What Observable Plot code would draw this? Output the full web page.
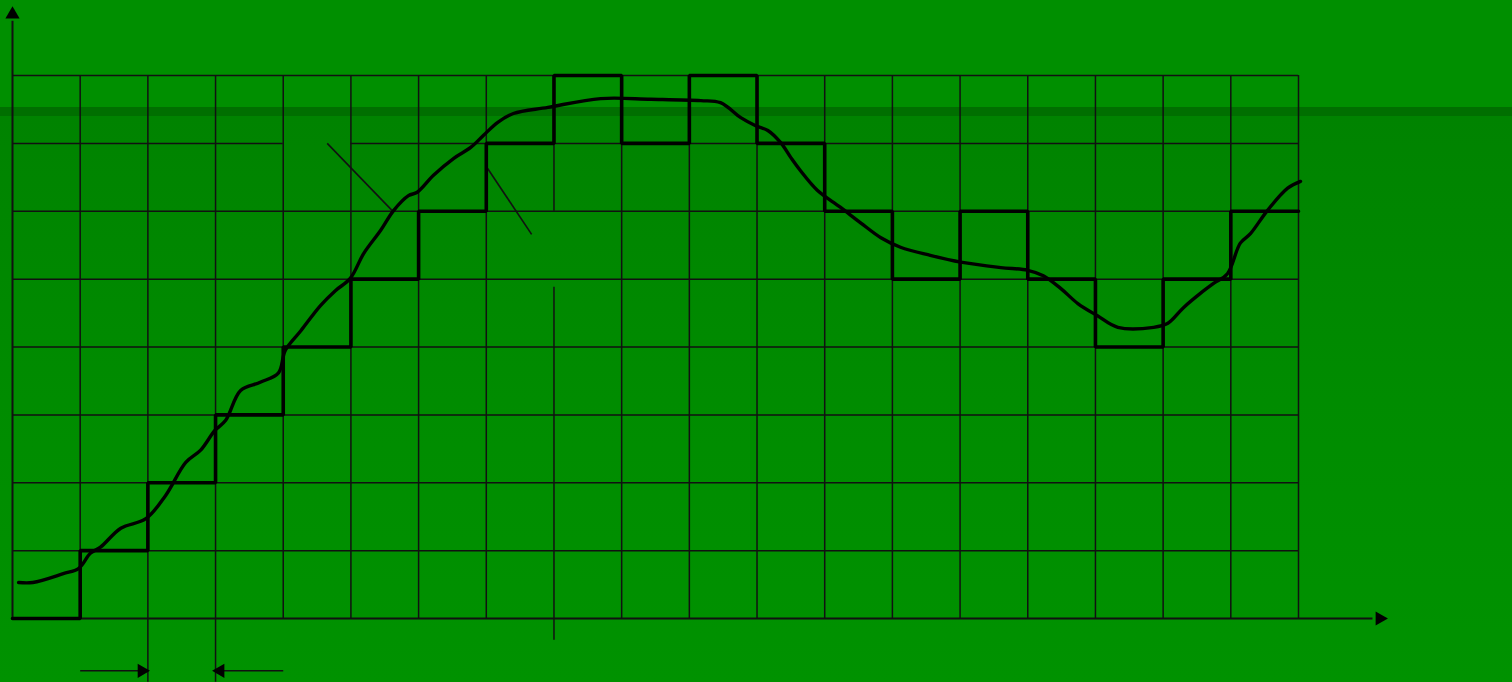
<!DOCTYPE html>
<html>
<head>
<meta charset="utf-8">
<script src="https://cdn.jsdelivr.net/npm/d3@7"></script>
<script src="https://cdn.jsdelivr.net/npm/@observablehq/plot@0.6"></script>
<style>
  html, body { margin: 0; padding: 0; background: #008f00; overflow: hidden; }
  #chart svg { display: block; }
</style>
</head>
<body>
<div id="chart"></div>
<script>
// ---- data (grid units: one cell = one step / one quantum) ----
const steps = [0,1,2,3,4,5,6,7,8,7,8,7,6,5,6,5,4,5,6];   // quantized level per interval
const stepIndex = [0,1,2,3,4,5,6,7,8,9,10,11,12,13,14,15,16,17,18];

// continuous (analog) signal
const curveT = [0.09,0.30,0.75,0.98,1.15,1.30,1.60,1.97,2.26,2.56,2.78,2.99,3.15,3.37,3.66,3.93,4.03,4.26,4.55,4.77,4.99,5.19,5.44,5.63,5.85,5.98,6.22,6.52,6.77,6.96,7.17,7.40,7.91,8.69,9.43,10.17,10.46,10.76,10.98,11.16,11.35,11.50,11.64,11.89,12.23,12.53,12.83,13.12,13.56,14.01,14.60,15.00,15.23,15.49,15.74,16.03,16.33,16.86,17.07,17.30,17.55,17.75,17.95,18.14,18.29,18.54,18.84,19.03];
const curveV = [0.53,0.53,0.66,0.74,0.96,1.05,1.33,1.47,1.81,2.30,2.48,2.77,2.92,3.36,3.48,3.62,3.95,4.24,4.61,4.83,5.01,5.38,5.72,6.01,6.23,6.28,6.53,6.78,6.94,7.12,7.31,7.44,7.53,7.66,7.65,7.63,7.60,7.38,7.26,7.19,7.01,6.79,6.60,6.31,6.06,5.83,5.61,5.47,5.35,5.25,5.17,5.13,5.05,4.86,4.64,4.46,4.29,4.29,4.35,4.58,4.79,4.94,5.08,5.53,5.67,6.01,6.34,6.44];

// grid lines
const gridX = [1,2,3,4,5,6,7,8,9,10,11,12,13,14,15,16,17,18,19];
const gridY = [1,2,3,4,5,6,7,8];
const gridTop = 8;
const gridRight = 19;
// extensions / gaps of particular grid lines (start, end)
const vSpecial = {2: [[-0.94, 8]], 3: [[-0.94, 8]], 8: [[-0.32, 4.88], [6, 8]]};
const hSpecial = {7: [[0, 4], [5, 19]]};

// axis extents
const axisXEnd = 20.1, axisXHead = 20.2;
const axisYEnd = 8.8, axisYHead = 8.9;

// pointer lines (leaders of erased labels)
const pointers = [
  {x1: 4.65, y1: 7.00, x2: 5.61, y2: 6.01},
  {x1: 7.02, y1: 6.63, x2: 7.67, y2: 5.66}
];
// interval arrows below the axis
const intervalArrows = [
  {x1: 1.00, x2: 1.91, y: -0.77, rot: 90},
  {x1: 4.00, x2: 3.07, y: -0.77, rot: -90}
];

// ---- build tables ----
const stepData = stepIndex.map((t, i) => ({t, v: steps[i]}));
stepData.push({t: stepIndex.length, v: steps[steps.length - 1]});
const curveData = curveT.map((t, i) => ({t, v: curveV[i]}));

const vSegs = [];
for (const u of gridX) {
  const segs = vSpecial[u] || [[0, gridTop]];
  for (const [a, b] of segs) vSegs.push({u, a, b});
}
const hSegs = [];
for (const v of gridY) {
  const segs = hSpecial[v] || [[0, gridRight]];
  for (const [a, b] of segs) hSegs.push({v, a, b});
}
const heads = [
  {x: 0, y: axisYHead, rot: 0},
  {x: axisXHead, y: 0, rot: 90},
  ...intervalArrows.map(d => ({x: d.x2, y: d.y, rot: d.rot}))
];

const ink = "#111";
const chart = Plot.plot({
  width: 1512,
  height: 682,
  margin: 0,
  x: {domain: [0, 19], range: [12, 1298], axis: null},
  y: {domain: [0, 8], range: [618, 75], axis: null},
  style: {
    background: "linear-gradient(to bottom, #008f00 0px, #008f00 107px, #006f00 107px, #006f00 116px, #008300 116px, #008c00 400px, #009200 682px)",
    overflow: "visible"
  },
  marks: [
    Plot.ruleX(vSegs, {x: "u", y1: "a", y2: "b", stroke: ink, strokeWidth: 1.5}),
    Plot.ruleY(hSegs, {y: "v", x1: "a", x2: "b", stroke: ink, strokeWidth: 1.5}),
    // axes
    Plot.ruleX([0], {y1: 0, y2: axisYEnd, stroke: ink, strokeWidth: 2}),
    Plot.ruleY([0], {x1: 0, x2: axisXEnd, stroke: ink, strokeWidth: 2}),
    // interval arrows
    Plot.link(intervalArrows, {x1: "x1", x2: "x2", y1: "y", y2: "y", stroke: ink, strokeWidth: 1.5}),
    Plot.dot(heads, {x: "x", y: "y", rotate: "rot", symbol: "triangle2", r: 6.8, fill: "#000", stroke: "none"}),
    // leader lines
    Plot.link(pointers, {x1: "x1", y1: "y1", x2: "x2", y2: "y2", stroke: ink, strokeWidth: 1.6}),
    // quantized staircase
    Plot.line(stepData, {x: "t", y: "v", curve: "step-after", stroke: "#000", strokeWidth: 3.6, strokeLinejoin: "miter"}),
    // analog signal
    Plot.line(curveData, {x: "t", y: "v", curve: "catmull-rom", stroke: "#000", strokeWidth: 3.4, strokeLinejoin: "round", strokeLinecap: "round"})
  ]
});
document.getElementById("chart").appendChild(chart);
</script>
</body>
</html>
